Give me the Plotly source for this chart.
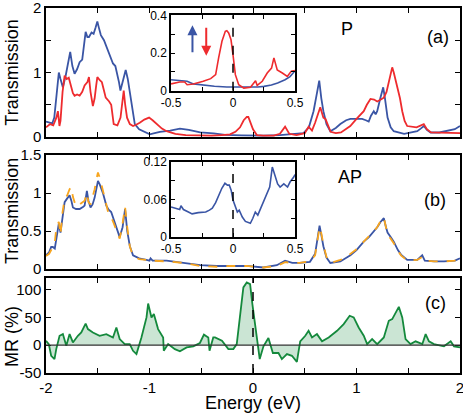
import plotly.graph_objects as go

# ---- panel (a): P configuration, spin up / spin down transmission
a_up_e = [-2.0, -1.97, -1.94, -1.92, -1.89, -1.876, -1.86, -1.837, -1.81, -1.785, -1.766, -1.745,
          -1.724, -1.7, -1.675, -1.65, -1.63, -1.617, -1.6, -1.585, -1.56, -1.54, -1.52, -1.504,
          -1.49, -1.47, -1.44, -1.417, -1.39, -1.37, -1.353, -1.33, -1.314, -1.295, -1.281, -1.26,
          -1.24, -1.23, -1.21, -1.184, -1.16, -1.142, -1.1, -1.062, -1.03, -0.997, -0.95, -0.9,
          -0.8, -0.706, -0.62, -0.51, -0.38, -0.27, -0.11, 0.0, 0.1, 0.26, 0.37, 0.45, 0.488,
          0.54, 0.585, 0.62, 0.64, 0.66, 0.68, 0.71, 0.747, 0.8, 0.844, 0.9, 0.941, 1.0, 1.054,
          1.09, 1.118, 1.14, 1.167, 1.185, 1.2, 1.23, 1.258, 1.275, 1.3, 1.33, 1.36, 1.46, 1.587,
          1.62, 1.651, 1.68, 1.716, 1.8, 1.878, 1.95, 2.0]
a_up_t = [0.24, 0.22, 0.21, 0.3, 0.85, 1.0, 0.9, 0.77, 0.95, 1.2, 1.32, 1.1,
          0.98, 1.05, 1.16, 1.2, 1.45, 1.63, 1.55, 1.55, 1.62, 1.6, 1.7, 1.79,
          1.7, 1.58, 1.5, 1.4, 1.3, 1.22, 1.14, 1.1, 1.0, 0.85, 0.72, 0.85,
          1.02, 1.04, 0.9, 0.61, 0.35, 0.2, 0.12, 0.09, 0.06, 0.04, 0.06, 0.08,
          0.1, 0.13, 0.11, 0.07, 0.055, 0.032, 0.024, 0.02, 0.02, 0.03, 0.04, 0.05, 0.06,
          0.15, 0.4, 0.7, 0.875, 0.6, 0.4, 0.2, 0.09, 0.14, 0.2, 0.26, 0.28, 0.28, 0.28,
          0.26, 0.24, 0.33, 0.4, 0.35, 0.4, 0.6, 0.77, 0.6, 0.3, 0.15, 0.09, 0.05, 0.09,
          0.13, 0.17, 0.11, 0.07, 0.07, 0.09, 0.12, 0.17]

a_dn_e = [-2.0, -1.96, -1.93, -1.9, -1.885, -1.87, -1.86, -1.84, -1.82, -1.8, -1.78, -1.76,
          -1.74, -1.724, -1.7, -1.675, -1.65, -1.627, -1.6, -1.585, -1.57, -1.547, -1.53, -1.515,
          -1.504, -1.48, -1.46, -1.44, -1.423, -1.39, -1.37, -1.346, -1.31, -1.28, -1.26, -1.249,
          -1.235, -1.217, -1.19, -1.159, -1.13, -1.094, -1.05, -1.004, -0.97, -0.932, -0.88, -0.835,
          -0.75, -0.65, -0.5, -0.4, -0.3, -0.222, -0.17, -0.125, -0.09, -0.06, -0.045, -0.02, 0.0,
          0.037, 0.1, 0.2, 0.26, 0.31, 0.35, 0.42, 0.5, 0.537, 0.57, 0.6, 0.65, 0.68, 0.7, 0.75,
          0.8, 0.85, 0.94, 1.0, 1.07, 1.1, 1.135, 1.17, 1.2, 1.235, 1.264, 1.29, 1.312, 1.33,
          1.345, 1.36, 1.39, 1.42, 1.442, 1.465, 1.49, 1.58, 1.65, 1.68, 1.72, 1.88, 2.0]
a_dn_t = [0.15, 0.2, 0.18, 0.3, 0.4, 0.17, 0.25, 0.7, 0.95, 0.9, 0.92, 0.8,
          0.68, 0.64, 0.66, 0.64, 0.7, 0.8, 0.85, 0.93, 0.7, 0.48, 0.6, 0.8,
          0.93, 0.88, 0.85, 0.72, 0.61, 0.55, 0.5, 0.2, 0.18, 0.3, 0.55, 0.72,
          0.5, 0.3, 0.2, 0.17, 0.19, 0.22, 0.27, 0.3, 0.26, 0.2, 0.13, 0.09,
          0.05, 0.03, 0.02, 0.02, 0.03, 0.04, 0.08, 0.15, 0.26, 0.31, 0.31, 0.22, 0.12,
          0.03, 0.02, 0.02, 0.05, 0.16, 0.05, 0.03, 0.06, 0.16, 0.1, 0.22, 0.46, 0.3, 0.28, 0.08,
          0.06, 0.07, 0.17, 0.28, 0.4, 0.5, 0.59, 0.58, 0.55, 0.58, 0.61, 0.7, 0.875, 1.0,
          1.08, 1.0, 0.8, 0.6, 0.4, 0.25, 0.17, 0.15, 0.2, 0.12, 0.07, 0.06, 0.06]

# inset (a): zoom around the Fermi level
ia_up_e = [-0.5, -0.43, -0.37, -0.32, -0.24, -0.15, -0.05, 0.05, 0.11, 0.2, 0.25, 0.31,
           0.36, 0.42, 0.46, 0.49, 0.5]
ia_up_t = [0.058, 0.053, 0.05, 0.036, 0.029, 0.024, 0.02, 0.019, 0.018, 0.02, 0.023, 0.03,
           0.041, 0.058, 0.075, 0.1, 0.105]
ia_dn_e = [-0.5, -0.47, -0.43, -0.39, -0.37, -0.32, -0.28, -0.24, -0.18, -0.14, -0.116,
           -0.089, -0.062, -0.05, -0.035, -0.016, 0.0, 0.019, 0.046, 0.087, 0.141, 0.182,
           0.195, 0.236, 0.276, 0.311, 0.33, 0.357, 0.398, 0.438, 0.47, 0.5]
ia_dn_t = [0.036, 0.04, 0.046, 0.046, 0.032, 0.036, 0.042, 0.05, 0.064, 0.085, 0.174,
           0.262, 0.315, 0.318, 0.306, 0.27, 0.19, 0.085, 0.032, 0.014, 0.018, 0.053,
           0.028, 0.05, 0.094, 0.12, 0.174, 0.11, 0.094, 0.076, 0.103, 0.107]

# ---- panel (b): AP configuration
b_e = [-2.0, -1.97, -1.95, -1.934, -1.915, -1.9, -1.876, -1.86, -1.84, -1.82, -1.795, -1.772,
       -1.755, -1.74, -1.71, -1.675, -1.64, -1.627, -1.605, -1.59, -1.57, -1.55, -1.53, -1.51,
       -1.498, -1.48, -1.45, -1.417, -1.395, -1.37, -1.345, -1.32, -1.288, -1.26, -1.236,
       -1.215, -1.19, -1.159, -1.1, -1.03, -1.0, -0.99, -0.97, -0.835, -0.67, -0.51, -0.35,
       -0.22, -0.06, 0.1, 0.23, 0.31, 0.38, 0.45, 0.55, 0.6, 0.62, 0.643, 0.66, 0.68, 0.71,
       0.747, 0.844, 0.9, 0.941, 1.0, 1.07, 1.12, 1.167, 1.2, 1.232, 1.264, 1.285, 1.3, 1.33,
       1.36, 1.4, 1.43, 1.49, 1.587, 1.635, 1.66, 1.75, 1.845, 1.95, 2.0]
b_total = [0.18, 0.22, 0.29, 0.29, 0.27, 0.4, 0.6, 0.48, 0.7, 0.88, 0.93, 0.97,
           0.9, 0.81, 0.79, 0.79, 0.82, 0.835, 1.03, 0.9, 0.81, 0.85, 0.94, 1.1,
           1.16, 1.11, 1.0, 0.835, 0.78, 0.75, 0.65, 0.55, 0.42, 0.55, 0.79,
           0.5, 0.3, 0.18, 0.14, 0.12, 0.11, 0.14, 0.11, 0.11, 0.08, 0.05, 0.04,
           0.04, 0.04, 0.02, 0.05, 0.11, 0.08, 0.08, 0.095, 0.2, 0.4, 0.57, 0.45, 0.3, 0.15,
           0.08, 0.1, 0.14, 0.18, 0.25, 0.36, 0.42, 0.49, 0.55, 0.62, 0.67, 0.55, 0.48, 0.42,
           0.36, 0.25, 0.19, 0.12, 0.12, 0.18, 0.11, 0.1, 0.1, 0.11, 0.14]
b_other = [0.17, 0.2, 0.25, 0.3, 0.35, 0.55, 0.62, 0.45, 0.75, 0.92, 0.97, 1.05,
           1.08, 0.95, 0.82, 0.85, 0.88, 0.9, 1.0, 0.88, 0.85, 0.95, 1.05, 1.2,
           1.27, 1.2, 1.05, 0.85, 0.72, 0.68, 0.6, 0.5, 0.4, 0.6, 0.82,
           0.55, 0.3, 0.17, 0.13, 0.12, 0.11, 0.12, 0.11, 0.1, 0.08, 0.04, 0.03,
           0.04, 0.04, 0.02, 0.04, 0.09, 0.08, 0.08, 0.1, 0.18, 0.38, 0.55, 0.47, 0.32, 0.16,
           0.08, 0.12, 0.15, 0.2, 0.26, 0.36, 0.44, 0.5, 0.55, 0.63, 0.68, 0.52, 0.45, 0.4,
           0.34, 0.24, 0.18, 0.11, 0.12, 0.16, 0.11, 0.1, 0.1, 0.11, 0.13]

ib_e = [-0.5, -0.47, -0.43, -0.42, -0.4, -0.36, -0.33, -0.28, -0.22, -0.19, -0.167, -0.14,
        -0.113, -0.09, -0.065, -0.045, -0.03, -0.015, 0.0, 0.02, 0.035, 0.05, 0.075, 0.1,
        0.14, 0.16, 0.18, 0.2, 0.236, 0.26, 0.296, 0.317, 0.34, 0.36, 0.38, 0.41, 0.44,
        0.46, 0.49, 0.5]
ib_t = [0.048, 0.046, 0.044, 0.05, 0.044, 0.04, 0.037, 0.039, 0.04, 0.043, 0.046, 0.055,
        0.067, 0.078, 0.086, 0.083, 0.083, 0.075, 0.059, 0.047, 0.04, 0.043, 0.032, 0.025,
        0.022, 0.03, 0.04, 0.035, 0.051, 0.064, 0.08, 0.112, 0.096, 0.085, 0.08, 0.085, 0.08,
        0.088, 0.096, 0.1]

# ---- panel (c): magnetoresistance
c_e = [-2.0, -1.973, -1.95, -1.918, -1.901, -1.869, -1.837, -1.804, -1.772, -1.74, -1.692,
       -1.659, -1.617, -1.595, -1.547, -1.482, -1.417, -1.353, -1.32, -1.288, -1.239, -1.191,
       -1.159, -1.126, -1.078, -1.029, -1.013, -0.981, -0.958, -0.917, -0.868, -0.862, -0.82,
       -0.755, -0.706, -0.641, -0.577, -0.513, -0.474, -0.432, -0.42, -0.384, -0.367, -0.3,
       -0.238, -0.19, -0.157, -0.125, -0.093, -0.06, -0.028, -0.006, 0.02, 0.052, 0.065,
       0.101, 0.149, 0.192, 0.246, 0.279, 0.328, 0.376, 0.424, 0.456, 0.505, 0.537, 0.57,
       0.618, 0.667, 0.731, 0.812, 0.876, 0.934, 0.973, 1.021, 1.07, 1.103, 1.151, 1.2,
       1.264, 1.312, 1.345, 1.384, 1.409, 1.442, 1.474, 1.522, 1.571, 1.636, 1.668, 1.7,
       1.748, 1.845, 1.91, 1.942, 2.0]
c_mr = [8, 2, -19, -25, -7, 17, 20, -1, 20, 5, 17,
        23, 39, 29, 23, 17, 20, 14, 32, 11, 2, 2,
        -10, -16, 14, 50, 75, 50, 56, 29, 14, -10, 2,
        -7, -11, -4, -2, 4, 19, 14, -10, 14, 14, 8,
        -7, -7, 2, 56, 104, 113, 110, 74, 38, -7, -25,
        -2, 13, -14, -14, -25, -16, -19, -30, 7, 17, 26, 14,
        20, 7, 14, 26, 38, 53, 50, 32, 17, 2, 11, 2,
        14, 44, 47, 62, 69, 50, 11, 2, 7, 2, 20, 7,
        2, -2, 7, -2, -4]

main_ticks = [-2, -1.5, -1, -0.5, 0, 0.5, 1, 1.5, 2]
main_labels = ["-2", "", "-1", "", "0", "", "1", "", "2"]
inset_xticks = [-0.5, -0.25, 0, 0.25, 0.5]
inset_xlabels = ["-0.5", "", "0", "", "0.5"]

BLUE = "#3a55a5"
RED = "#ee2b2e"
ORANGE = "#f7a51f"
GREEN = "#14893c"
FONT = "Liberation Sans, Arial, sans-serif"


def frame(**kw):
    """ Boxed axis with inward ticks on every side """
    base = dict(showline=True, linecolor="black", linewidth=1.5, mirror="allticks",
                ticks="inside", ticklen=5, tickwidth=1.2, tickcolor="black",
                showgrid=False, zeroline=False, automargin=False,
                ticklabeloverflow="allow", tickfont=dict(size=15, color="black"))
    base.update(kw)
    return base


fig = go.Figure()
line_w = 1.8
fig.add_trace(go.Scatter(x=a_up_e, y=a_up_t, mode="lines", line=dict(color=BLUE, width=line_w),
                         xaxis="x", yaxis="y"))
fig.add_trace(go.Scatter(x=a_dn_e, y=a_dn_t, mode="lines", line=dict(color=RED, width=line_w),
                         xaxis="x", yaxis="y"))
fig.add_trace(go.Scatter(x=ia_up_e, y=ia_up_t, mode="lines", line=dict(color=BLUE, width=1.6),
                         xaxis="x4", yaxis="y4"))
fig.add_trace(go.Scatter(x=ia_dn_e, y=ia_dn_t, mode="lines", line=dict(color=RED, width=1.6),
                         xaxis="x4", yaxis="y4"))
fig.add_trace(go.Scatter(x=b_e, y=b_total, mode="lines", line=dict(color=BLUE, width=line_w),
                         xaxis="x2", yaxis="y2"))
fig.add_trace(go.Scatter(x=b_e, y=b_other, mode="lines",
                         line=dict(color=ORANGE, width=line_w, dash="dash"),
                         xaxis="x2", yaxis="y2"))
fig.add_trace(go.Scatter(x=ib_e, y=ib_t, mode="lines", line=dict(color=BLUE, width=1.6),
                         xaxis="x5", yaxis="y5"))
fig.add_trace(go.Scatter(x=c_e, y=c_mr, mode="lines", fill="tozeroy",
                         fillcolor="rgba(20,137,60,0.22)", line=dict(color=GREEN, width=line_w),
                         xaxis="x3", yaxis="y3"))

fig.update_layout(
    template="none",
    width=463, height=414,
    margin=dict(l=46, r=3, t=8, b=41),
    paper_bgcolor="white", plot_bgcolor="white",
    showlegend=False,
    font=dict(family=FONT, color="black"),
    xaxis=frame(domain=[0, 1], anchor="y", range=[-2, 2], tickvals=main_ticks,
                showticklabels=False),
    yaxis=frame(domain=[0.6466, 1], anchor="x", range=[0, 2],
                tickvals=[0, 0.5, 1, 1.5, 2], ticktext=["0", "", "1", "", "2"]),
    xaxis2=frame(domain=[0, 1], anchor="y2", range=[-2, 2], tickvals=main_ticks,
                 showticklabels=False),
    yaxis2=frame(domain=[0.2849, 0.597], anchor="x2", range=[0, 1.5],
                 tickvals=[0, 0.5, 1, 1.5], ticktext=["0", "0.5", "1", "1.5"]),
    xaxis3=frame(domain=[0, 1], anchor="y3", range=[-2, 2], tickvals=main_ticks,
                 ticktext=main_labels),
    yaxis3=frame(domain=[0, 0.2603], anchor="x3", range=[-50, 121],
                 tickvals=[-50, 0, 50, 100], ticktext=["-50", "0", "50", "100"]),
    xaxis4=frame(domain=[0.302, 0.6014], anchor="y4", range=[-0.5, 0.5],
                 tickvals=inset_xticks, ticktext=inset_xlabels, ticklen=4,
                 tickfont=dict(size=12, color="black")),
    yaxis4=frame(domain=[0.7734, 0.98], anchor="x4", range=[0, 0.4],
                 tickvals=[0, 0.1, 0.2, 0.3, 0.4], ticktext=["0", "", "0.2", "", "0.4"],
                 ticklen=4, tickfont=dict(size=12, color="black")),
    xaxis5=frame(domain=[0.302, 0.6014], anchor="y5", range=[-0.5, 0.5],
                 tickvals=inset_xticks, ticktext=inset_xlabels, ticklen=4,
                 tickfont=dict(size=12, color="black")),
    yaxis5=frame(domain=[0.3726, 0.578], anchor="x5", range=[0, 0.12],
                 tickvals=[0, 0.03, 0.06, 0.09, 0.12], ticktext=["0", "", "0.06", "", "0.12"],
                 ticklen=4, tickfont=dict(size=12, color="black")),
)

# dashed Fermi level markers and the zero line of the MR panel
for xr, yr in (("x4", "y4"), ("x5", "y5"), ("x3", "y3")):
    fig.add_shape(type="line", x0=0, x1=0, y0=0, y1=1, xref=xr, yref=yr + " domain",
                  line=dict(color="black", width=1.5, dash="dash"))
fig.add_shape(type="line", x0=0, x1=1, y0=0, y1=0, xref="x3 domain", yref="y3",
              line=dict(color="#333333", width=1.2))

# spin arrows in inset (a)
fig.add_annotation(x=-0.327, y=0.347, ax=-0.327, ay=0.196, xref="x4", yref="y4",
                   axref="x4", ayref="y4", text="", showarrow=True, arrowhead=2,
                   arrowsize=1, arrowwidth=2, arrowcolor=BLUE)
fig.add_annotation(x=-0.216, y=0.186, ax=-0.216, ay=0.342, xref="x4", yref="y4",
                   axref="x4", ayref="y4", text="", showarrow=True, arrowhead=2,
                   arrowsize=1, arrowwidth=2, arrowcolor=RED)

labels = [("Transmission", -0.082, 0.823, -90), ("Transmission", -0.082, 0.444, -90),
          ("MR (%)", -0.082, 0.099, -90), ("Energy (eV)", 0.5, -0.081, 0),
          ("P", 0.727, 0.9425, 0), ("(a)", 0.947, 0.9205, 0), ("AP", 0.734, 0.537, 0),
          ("(b)", 0.9396, 0.474, 0), ("(c)", 0.942, 0.192, 0)]
for text, xp, yp, angle in labels:
    fig.add_annotation(x=xp, y=yp, xref="paper", yref="paper", text=text, showarrow=False,
                       textangle=angle, xanchor="center", yanchor="middle",
                       font=dict(size=18, color="black", family=FONT))

# drop the browser's default body margin so the figure sits at the window corner
fig.write_html("out.html", config={"displayModeBar": False},
               post_script="document.body.style.margin = '0px';")
